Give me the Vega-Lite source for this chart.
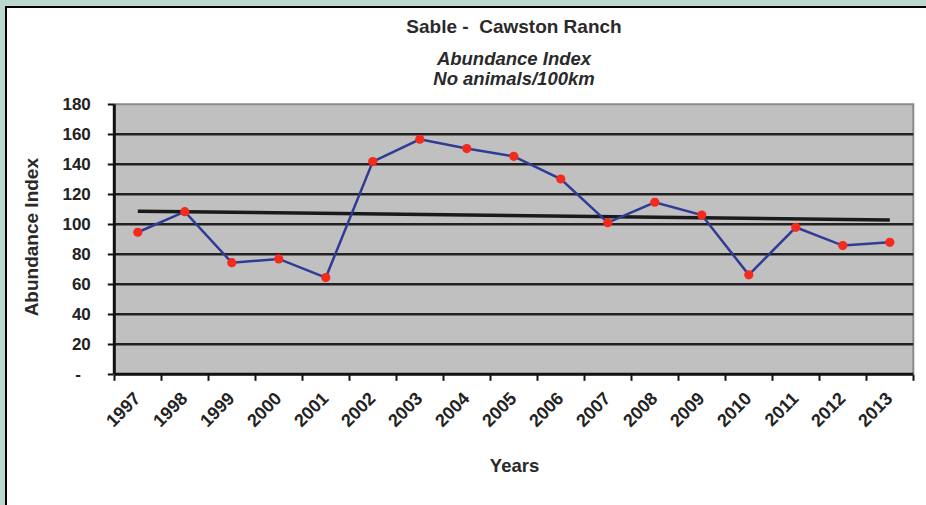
{
  "$schema": "https://vega.github.io/schema/vega-lite/v6.json",
  "width": 920,
  "height": 498,
  "autosize": {"type": "none"},
  "padding": {"left": 6, "top": 7, "right": 0, "bottom": 0},
  "background": "#bad7d0",
  "config": {
    "view": {"fill": "white", "stroke": "black", "strokeWidth": 2, "strokeDash": [920, 1418, 498]},
    "font": "Liberation Sans"
  },
  "title": {
    "text": "Sable -\u00a0 Cawston Ranch",
    "subtitle": ["Abundance Index", "No animals/100km"],
    "anchor": "middle",
    "frame": "group",
    "offset": 0,
    "dx": 48,
    "dy": 81,
    "font": "Liberation Sans",
    "fontSize": 19,
    "fontWeight": "bold",
    "color": "#2a2a2a",
    "subtitleFont": "Liberation Sans",
    "subtitleFontSize": 18.5,
    "subtitleFontStyle": "italic",
    "subtitleFontWeight": "bold",
    "subtitleColor": "#2a2a2a",
    "subtitleLineHeight": 20,
    "subtitlePadding": 13,
    "zindex": 1
  },
  "layer": [
    {
      "data": {"values": [{"x0": 1996.5, "x1": 2013.5, "y0": 0, "y1": 180}]},
      "mark": {"type": "rect", "fill": "#c0c0c0", "stroke": "#8a8a8a", "strokeWidth": 2},
      "encoding": {
        "x": {
          "field": "x0",
          "type": "quantitative",
          "title": "Years",
          "scale": {"domain": [1994.19574, 2013.77021], "nice": false, "zero": false},
          "axis": {
            "offset": -130.7,
            "values": [1996.5, 1997.5, 1998.5, 1999.5, 2000.5, 2001.5, 2002.5, 2003.5, 2004.5, 2005.5, 2006.5, 2007.5, 2008.5, 2009.5, 2010.5, 2011.5, 2012.5, 2013.5],
            "labelExpr": "datum.value < 2013 ? toString(datum.value + 0.5) : ''",
            "labelOffset": 17,
            "labelAngle": -45,
            "labelAlign": "right",
            "labelBaseline": "top",
            "labelPadding": 9,
            "labelOverlap": false,
            "labelFlush": false,
            "labelBound": false,
            "labelFont": "Liberation Sans",
            "labelFontSize": 18,
            "labelFontWeight": "bold",
            "labelColor": "#222222",
            "domain": false,
            "grid": false,
            "ticks": true,
            "tickSize": 6,
            "tickWidth": 2,
            "tickColor": "#111111",
            "titleFont": "Liberation Sans",
            "titleFontSize": 18.5,
            "titleFontWeight": "bold",
            "titleColor": "#2a2a2a",
            "titleX": 508,
            "titleY": 97.4,
            "titleAlign": "center",
            "titleBaseline": "alphabetic"
          }
        },
        "x2": {"field": "x1"},
        "y": {
          "field": "y0",
          "type": "quantitative",
          "title": "Abundance Index",
          "scale": {"domain": [-87.1333, 244.8667], "nice": false, "zero": false},
          "axis": {
            "offset": -108.3,
            "values": [0, 20, 40, 60, 80, 100, 120, 140, 160, 180],
            "labelExpr": "datum.value == 0 ? '-' : datum.label",
            "labelPadding": {"condition": {"test": "datum.value == 0", "value": 27}, "value": 17},
            "labelFont": "Liberation Sans",
            "labelFontSize": 17,
            "labelFontWeight": "bold",
            "labelColor": "#222222",
            "labelBaseline": "middle",
            "domain": false,
            "grid": false,
            "tickSize": 7,
            "tickWidth": 2,
            "tickColor": "#111111",
            "titleFont": "Liberation Sans",
            "titleFontSize": 19,
            "titleFontWeight": "bold",
            "titleColor": "#2a2a2a",
            "titleAngle": -90,
            "titleX": -77.3,
            "titleY": 229.7,
            "titleAlign": "center",
            "titleBaseline": "alphabetic"
          }
        },
        "y2": {"field": "y1"}
      }
    },
    {
      "data": {"values": [{"g": 20}, {"g": 40}, {"g": 60}, {"g": 80}, {"g": 100}, {"g": 120}, {"g": 140}, {"g": 160}]},
      "mark": {"type": "rule", "color": "#222222", "strokeWidth": 2.5},
      "encoding": {
        "y": {"field": "g", "type": "quantitative"},
        "x": {"datum": 1996.5, "type": "quantitative"},
        "x2": {"datum": 2013.5}
      }
    },
    {
      "data": {"values": [{"xa": 1996.5, "xb": 2013.5, "ya": 0, "yb": 0}, {"xa": 1996.5, "xb": 1996.5, "ya": 0, "yb": 180}]},
      "mark": {"type": "rule", "color": "#111111", "strokeWidth": 3},
      "encoding": {
        "x": {"field": "xa", "type": "quantitative"},
        "x2": {"field": "xb"},
        "y": {"field": "ya", "type": "quantitative"},
        "y2": {"field": "yb"}
      }
    },
    {
      "data": {"values": [{"year": 1997, "trend": 108.7}, {"year": 2013, "trend": 102.9}]},
      "mark": {"type": "line", "color": "#1a1a1a", "strokeWidth": 3.5},
      "encoding": {
        "x": {"field": "year", "type": "quantitative"},
        "y": {"field": "trend", "type": "quantitative"}
      }
    },
    {
      "data": {"values": [
        {"year": 1997, "index": 94.7},
        {"year": 1998, "index": 108.4},
        {"year": 1999, "index": 74.4},
        {"year": 2000, "index": 76.9},
        {"year": 2001, "index": 64.5},
        {"year": 2002, "index": 141.8},
        {"year": 2003, "index": 156.7},
        {"year": 2004, "index": 150.5},
        {"year": 2005, "index": 145.3},
        {"year": 2006, "index": 130.2},
        {"year": 2007, "index": 101.1},
        {"year": 2008, "index": 114.7},
        {"year": 2009, "index": 106.2},
        {"year": 2010, "index": 66.3},
        {"year": 2011, "index": 98},
        {"year": 2012, "index": 85.8},
        {"year": 2013, "index": 88}
      ]},
      "encoding": {
        "x": {"field": "year", "type": "quantitative"},
        "y": {"field": "index", "type": "quantitative"}
      },
      "layer": [
        {"mark": {"type": "line", "color": "#2f3b94", "strokeWidth": 2.5}},
        {"mark": {"type": "circle", "color": "#f42a1c", "opacity": 1, "size": 85}}
      ]
    }
  ]
}
